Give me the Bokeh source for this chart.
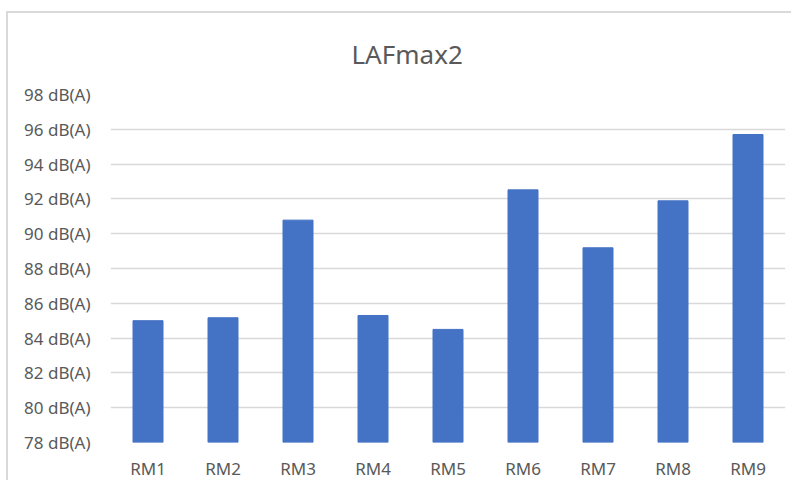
from bokeh.plotting import figure
from bokeh.models import FactorRange, Range1d, FixedTicker, PrintfTickFormatter, ColumnDataSource
from bokeh.embed import file_html
from bokeh.resources import INLINE

rooms = ["RM1", "RM2", "RM3", "RM4", "RM5", "RM6", "RM7", "RM8", "RM9"]
lafmax2 = [85.0, 85.17, 90.78, 85.3, 84.5, 92.52, 89.19, 91.89, 95.7]
y_ticks = [78, 80, 82, 84, 86, 88, 90, 92, 94, 96, 98]

FONT = "Noto Sans"
GRAY = "#595959"

src = ColumnDataSource(dict(room=rooms, value=lafmax2))

p = figure(width=785, height=469,
           x_range=FactorRange(*rooms, range_padding=0),
           y_range=Range1d(78, 98),
           output_backend="svg", toolbar_location=None,
           title="LAFmax2",
           min_border_left=102, min_border_right=8,
           min_border_top=81, min_border_bottom=37)

p.styles = {"margin-left": "6px", "margin-top": "11px",
            "border-left": "2px solid #d9d9d9", "border-top": "2px solid #d9d9d9"}

p.vbar(x="room", top="value", bottom=78, width=0.4, source=src,
       fill_color="#4472c4", line_color="#4472c4")

p.title.align = "left"
p.title.vertical_align = "top"
p.title.text_font = FONT
p.title.text_font_size = "26px"
p.title.text_font_style = "normal"
p.title.text_color = GRAY
p.title.standoff = 42
p.title.offset = 241

p.yaxis.ticker = FixedTicker(ticks=y_ticks)
p.yaxis.formatter = PrintfTickFormatter(format="%d dB(A)")
for ax in (p.xaxis[0], p.yaxis[0]):
    ax.axis_line_color = None
    ax.major_tick_line_color = None
    ax.minor_tick_line_color = None
    ax.major_tick_out = 0
    ax.major_tick_in = 0
    ax.major_label_text_font = FONT
    ax.major_label_text_font_size = "17px"
    ax.major_label_text_color = GRAY
p.yaxis.major_label_standoff = 20
p.xaxis.major_label_standoff = 14

p.xgrid.grid_line_color = None
p.ygrid.grid_line_color = "#d9d9d9"
p.ygrid.grid_line_width = 1.5
p.outline_line_color = None
p.background_fill_color = "white"
p.border_fill_color = "white"

open("out.html", "w").write(file_html(p, INLINE))
